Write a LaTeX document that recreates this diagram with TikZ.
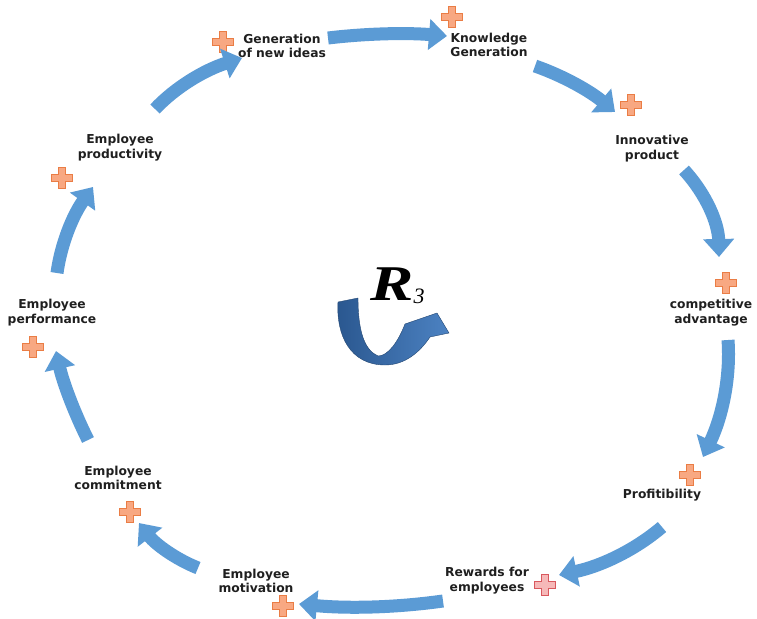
\documentclass[tikz,border=0pt]{standalone}
\usepackage{fontspec}
\newfontfamily\lblfont{DejaVu Sans}
\newfontfamily\rfont{Liberation Serif}
\usetikzlibrary{arrows.meta,calc}
\definecolor{arrowblue}{HTML}{5B9BD5}
\definecolor{txtgray}{HTML}{1F1F1F}
\definecolor{plusfill}{HTML}{F8A882}
\definecolor{plusedge}{HTML}{EA7D45}
\definecolor{pinkfill}{HTML}{F6B8B8}
\definecolor{pinkedge}{HTML}{D9585E}
\definecolor{udark}{HTML}{2A578F}
\definecolor{ulight}{HTML}{4C82C2}
\tikzset{
  lbl/.style={align=center, text=txtgray, inner sep=0pt,
    font=\lblfont\bfseries\fontsize{12.3}{14.8}\selectfont},
  fatarrow/.style={draw=arrowblue, line width=13pt,
    -{Triangle[width=30pt,length=18pt]}},
  plusmark/.pic={
    \filldraw[fill=plusfill, draw=plusedge, line width=1pt]
      (-3.5,-10.5) -- (3.5,-10.5) -- (3.5,-3.5) -- (10.5,-3.5) -- (10.5,3.5)
      -- (3.5,3.5) -- (3.5,10.5) -- (-3.5,10.5) -- (-3.5,3.5) -- (-10.5,3.5)
      -- (-10.5,-3.5) -- (-3.5,-3.5) -- cycle;},
  pinkmark/.pic={
    \filldraw[fill=pinkfill, draw=pinkedge, line width=1pt]
      (-3.5,-10.5) -- (3.5,-10.5) -- (3.5,-3.5) -- (10.5,-3.5) -- (10.5,3.5)
      -- (3.5,3.5) -- (3.5,10.5) -- (-3.5,10.5) -- (-3.5,3.5) -- (-10.5,3.5)
      -- (-10.5,-3.5) -- (-3.5,-3.5) -- cycle;}
}
% quadratic curve from #1 via control #2 to #3
\newcommand\qarrow[3]{\draw[fatarrow] (#1) .. controls ($(#1)!0.6667!(#2)$) and ($(#3)!0.6667!(#2)$) .. (#3);}
\begin{document}
\begin{tikzpicture}[x=1pt,y=-1pt]
\path[use as bounding box, fill=white] (0,0) rectangle (757,618);

% labels
\node[lbl] (gen)   at (282,46)  {Generation\\of new ideas};
\node[lbl] (know)  at (489,45)  {Knowledge\\Generation};
\node[lbl] (innov) at (652,149) {Innovative\\product};
\node[lbl] (comp)  at (711,313) {competitive\\advantage};
\node[lbl] (prof)  at (662,495) {Profitibility};
\node[lbl] (rew)   at (487,581) {Rewards for\\employees};
\node[lbl] (mot)   at (256,581) {Employee\\motivation};
\node[lbl] (com)   at (118,478) {Employee\\commitment};
\node[lbl] (perf)  at (52,313)  {Employee\\performance};
\node[lbl] (prod)  at (120,148) {Employee\\productivity};

% plus signs
\pic at (223,42)  {plusmark};
\pic at (452,17)  {plusmark};
\pic at (631,105) {plusmark};
\pic at (726,283) {plusmark};
\pic at (690,475) {plusmark};
\pic at (545,585) {pinkmark};
\pic at (283,606) {plusmark};
\pic at (130,512) {plusmark};
\pic at (33,347)  {plusmark};
\pic at (62,178)  {plusmark};

% arrow end and control coordinates
\coordinate (a1s) at (155,109); \coordinate (a1c) at (186,76);    \coordinate (a1e) at (242,58);
\coordinate (a2s) at (328,38);  \coordinate (a2c) at (387,31);    \coordinate (a2e) at (447,36);
\coordinate (a3s) at (535,66);  \coordinate (a3c) at (578,81);    \coordinate (a3e) at (615,112);
\coordinate (a4s) at (684,170); \coordinate (a4c) at (718,207);   \coordinate (a4e) at (719,257);
\coordinate (a5s) at (728,340); \coordinate (a5c) at (732,396);   \coordinate (a5e) at (703,457);
\coordinate (a6s) at (662,527); \coordinate (a6c) at (621,562);   \coordinate (a6e) at (559,575);
\coordinate (a7s) at (443,601); \coordinate (a7c) at (372,611);   \coordinate (a7e) at (299,604);
\coordinate (a8s) at (198,568); \coordinate (a8c) at (163,554);   \coordinate (a8e) at (139,523);
\coordinate (a9s) at (88,440);  \coordinate (a9c) at (66,396);    \coordinate (a9e) at (56,351);
\coordinate (a10s) at (57,273); \coordinate (a10c) at (63,229);   \coordinate (a10e) at (93,187);

\qarrow{a1s}{a1c}{a1e}
\qarrow{a2s}{a2c}{a2e}
\qarrow{a3s}{a3c}{a3e}
\qarrow{a4s}{a4c}{a4e}
\qarrow{a5s}{a5c}{a5e}
\qarrow{a6s}{a6c}{a6e}
\qarrow{a7s}{a7c}{a7e}
\qarrow{a8s}{a8c}{a8e}
\qarrow{a9s}{a9c}{a9e}
\qarrow{a10s}{a10c}{a10e}

% centre R3 loop symbol
\shade[left color=udark, right color=ulight, draw=udark!80!black, line width=0.4pt]
  (338,302) -- (358,298)
  .. controls (358,330) and (364,350) .. (378,356)
  .. controls (388,356) and (398,342) .. (405,324)
  -- (437,313) -- (449,333) -- (430,337)
  .. controls (420,352) and (405,365) .. (385,365)
  .. controls (350,365) and (336,335) .. (338,302) -- cycle;
\node[anchor=base west, inner sep=0pt] (r3) at (370,300)
  {\rfont\bfseries\itshape\fontsize{50}{50}\selectfont\scalebox{1.3}[1]{R}\raisebox{-3pt}{\mdseries\fontsize{22}{22}\selectfont 3}};
\end{tikzpicture}
\end{document}
